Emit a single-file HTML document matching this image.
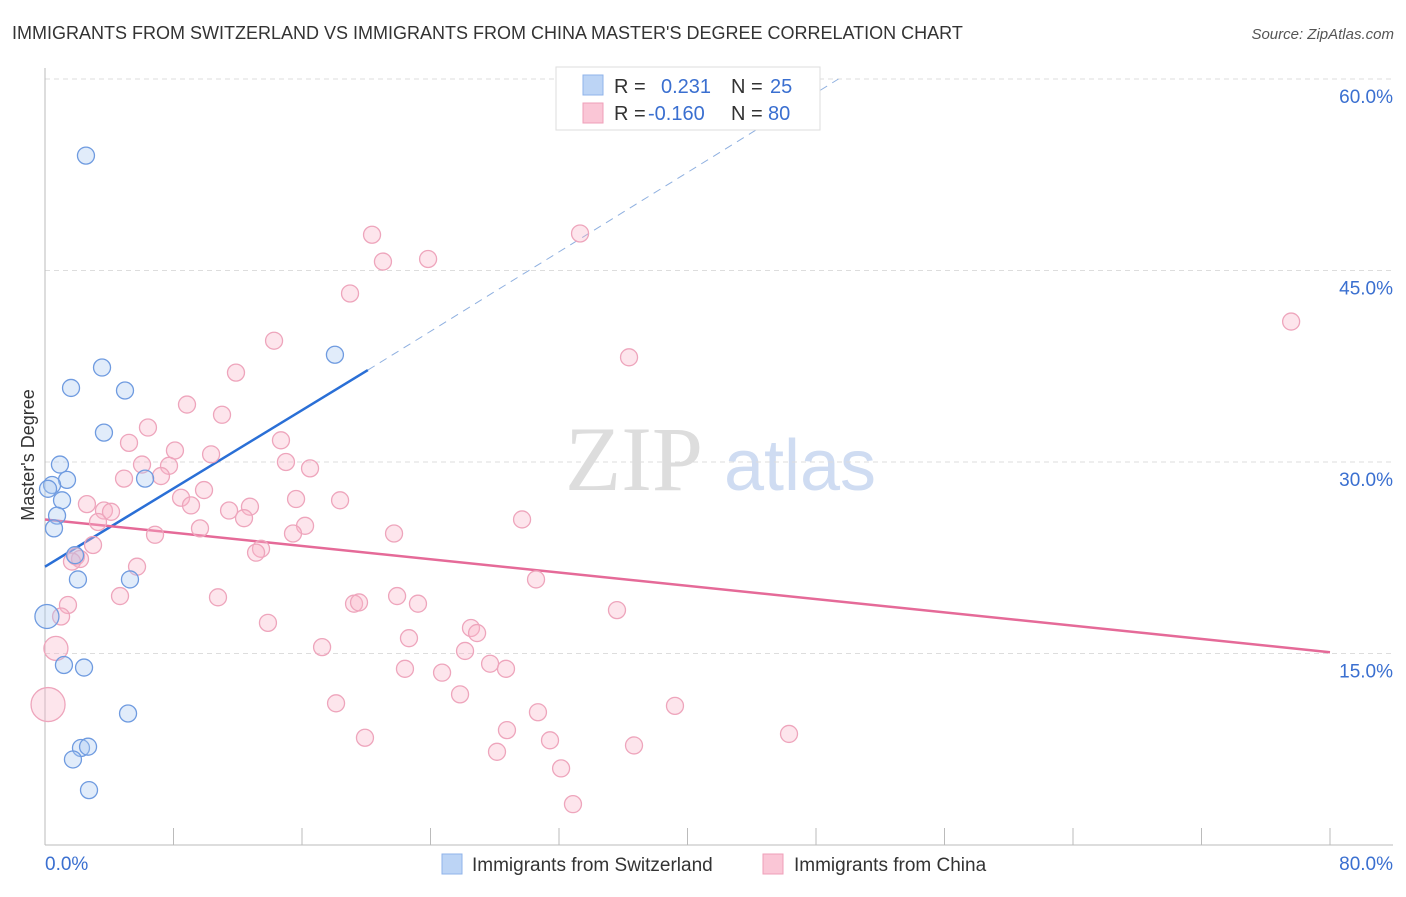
<!DOCTYPE html>
<html><head><meta charset="utf-8"><style>
body{margin:0;background:#fff;font-family:"Liberation Sans",sans-serif;}
svg text{font-family:"Liberation Sans",sans-serif;}
</style></head><body>
<svg id="chart" width="1406" height="892" viewBox="0 0 1406 892" xmlns="http://www.w3.org/2000/svg">
<text x="12" y="39" font-size="18" fill="#333">IMMIGRANTS FROM SWITZERLAND VS IMMIGRANTS FROM CHINA MASTER'S DEGREE CORRELATION CHART</text>
<text x="1394" y="39" font-size="15" fill="#555" text-anchor="end" font-style="italic">Source: ZipAtlas.com</text>
<g>
<text x="634" y="490" font-size="92" fill="#ddd" text-anchor="middle" font-family="Liberation Serif" style="font-family:'Liberation Serif',serif">ZIP</text>
<text x="800" y="490" font-size="72" fill="#cfdcf2" text-anchor="middle">atlas</text>
</g>
<g id="grid"></g>
<g id="axes"></g>
<g id="lines"></g>
<g id="points"></g>
<text transform="translate(34,455) rotate(-90)" font-size="18" fill="#333" text-anchor="middle">Master's Degree</text>
<g>
<rect x="556" y="67" width="264" height="63" fill="#fff" stroke="#ddd"/>
<rect x="583" y="75" width="20" height="20" fill="#bcd4f5" stroke="#8fb3ea"/>
<rect x="583" y="103" width="20" height="20" fill="#fac6d6" stroke="#ef9fb8"/>
<text x="614" y="93" font-size="20" fill="#333">R =</text>
<text x="661" y="93" font-size="20" fill="#3a6fd0">0.231</text>
<text x="731" y="93" font-size="20" fill="#333">N =</text>
<text x="770" y="93" font-size="20" fill="#3a6fd0">25</text>
<text x="614" y="120" font-size="20" fill="#333">R =</text>
<text x="648" y="120" font-size="20" fill="#3a6fd0">-0.160</text>
<text x="731" y="120" font-size="20" fill="#333">N =</text>
<text x="768" y="120" font-size="20" fill="#3a6fd0">80</text>
</g>
<g>
<rect x="442" y="854" width="20" height="20" fill="#bcd4f5" stroke="#8fb3ea"/>
<text x="472" y="871" font-size="19" fill="#333">Immigrants from Switzerland</text>
<rect x="763" y="854" width="20" height="20" fill="#fac6d6" stroke="#ef9fb8"/>
<text x="794" y="871" font-size="19" fill="#333">Immigrants from China</text>
</g>
</svg>
<script>
const xTicks=[0,8,16,24,32,40,48,56,64,72,80];
const yTicks=[15,30,45,60];
const yTickLabels=["15.0%","30.0%","45.0%","60.0%"];
const swissX=[2.55,3.55,1.62,4.98,18.05,3.67,0.93,6.23,1.37,0.44,0.19,1.06,0.75,0.56,1.87,2.05,5.29,0.12,1.18,2.43,5.17,2.24,2.68,1.74,2.74];
const swissY=[54.0,37.4,35.8,35.6,38.4,32.3,29.8,28.7,28.6,28.2,27.9,27.0,25.8,24.8,22.7,20.8,20.8,17.9,14.1,13.9,10.3,7.6,7.7,6.7,4.3];
const swissBig=[0,0,0,0,0,0,0,0,0,0,0,0,0,0,0,0,0,1,0,0,0,0,0,0,0];
const chinaX=[20.36,33.31,21.04,23.85,18.99,77.58,14.26,36.36,11.89,8.84,11.02,6.41,14.69,5.23,8.09,10.34,15.0,6.04,7.72,16.5,4.92,7.22,9.9,8.47,15.63,18.37,2.61,9.09,12.76,11.46,3.67,4.11,12.39,3.3,29.7,16.19,9.65,15.44,6.85,21.73,2.99,13.45,13.14,1.93,2.18,1.68,5.73,30.57,4.67,10.77,21.92,1.43,19.24,19.55,23.22,35.61,1.0,13.88,26.52,26.9,22.66,17.25,0.68,26.15,27.71,28.7,22.41,24.72,25.84,18.12,39.22,30.69,28.76,46.32,19.92,31.44,36.67,28.14,32.13,32.87,0.19];
const chinaY=[47.8,47.9,45.7,45.9,43.2,41.0,39.5,38.2,37.0,34.5,33.7,32.7,31.7,31.5,30.9,30.6,30.0,29.8,29.7,29.5,28.7,28.9,27.8,27.2,27.1,27.0,26.7,26.6,26.5,26.2,26.2,26.1,25.6,25.3,25.5,25.0,24.8,24.4,24.3,24.4,23.5,23.2,22.9,22.6,22.4,22.2,21.8,20.8,19.5,19.4,19.5,18.8,18.9,19.0,18.9,18.4,17.9,17.4,17.0,16.6,16.2,15.5,15.4,15.2,14.2,13.8,13.8,13.5,11.8,11.1,10.9,10.4,9.0,8.7,8.4,8.2,7.8,7.3,6.0,3.2,11.0];
const chinaBig=new Array(81).fill(0);chinaBig[62]=1;chinaBig[80]=2;
const swissTrend=[[0,21.8],[20.1,37.2],[49.4,60.0]];
const chinaTrend=[[0,25.5],[80,15.1]];
const NS="http://www.w3.org/2000/svg";
const xs=v=>45+v/80*1285, ys=v=>845-v/15*191.5;
function mk(t,a,p){const e=document.createElementNS(NS,t);for(const k in a)e.setAttribute(k,a[k]);p.appendChild(e);return e;}
const grid=document.getElementById('grid'),axes=document.getElementById('axes'),lines=document.getElementById('lines'),pts=document.getElementById('points');
yTicks.forEach((t,i)=>{const l=mk('line',{x1:45,x2:1393,y1:ys(t),y2:ys(t),stroke:'#ddd','stroke-dasharray':'5,4'},grid);


const tx=mk('text',{x:1393,y:ys(t)+24,'font-size':19,fill:'#3a6fd0','text-anchor':'end'},axes);tx.textContent=yTickLabels[i];

});
const ya=mk('line',{x1:45,x2:45,y1:68,y2:845,stroke:'#bbb'},axes);


const xa=mk('line',{x1:45,x2:1393,y1:845,y2:845,stroke:'#bbb'},axes);


xTicks.forEach(t=>{const l=mk('line',{x1:xs(t),x2:xs(t),y1:828,y2:845,stroke:'#bbb'},axes);

});
const xl0=mk('text',{x:45,y:870,'font-size':19,fill:'#3a6fd0'},axes);xl0.textContent='0.0%';


const xl1=mk('text',{x:1393,y:870,'font-size':19,fill:'#3a6fd0','text-anchor':'end'},axes);xl1.textContent='80.0%';


chinaX.forEach((v,i)=>{const r=chinaBig[i]==2?17:chinaBig[i]==1?12:8.5;const c=mk('circle',{cx:xs(v),cy:ys(chinaY[i]),r:r,fill:'rgba(248,180,200,0.35)',stroke:'#eea5bc','stroke-width':1.3},pts);

});
swissX.forEach((v,i)=>{const r=swissBig[i]?12:8.5;const c=mk('circle',{cx:xs(v),cy:ys(swissY[i]),r:r,fill:'rgba(170,200,240,0.35)',stroke:'#6f9be0','stroke-width':1.3},pts);

});
const s1=mk('line',{x1:xs(swissTrend[0][0]),y1:ys(swissTrend[0][1]),x2:xs(swissTrend[1][0]),y2:ys(swissTrend[1][1]),stroke:'#2a6fd6','stroke-width':2.5},lines);


const s2=mk('line',{x1:xs(swissTrend[1][0]),y1:ys(swissTrend[1][1]),x2:xs(swissTrend[2][0]),y2:ys(swissTrend[2][1]),stroke:'#8fb0e0','stroke-width':1,'stroke-dasharray':'8,6'},lines);


const c1=mk('line',{x1:xs(chinaTrend[0][0]),y1:ys(chinaTrend[0][1]),x2:xs(chinaTrend[1][0]),y2:ys(chinaTrend[1][1]),stroke:'#e56a98','stroke-width':2.5},lines);


</script>
</body></html>
